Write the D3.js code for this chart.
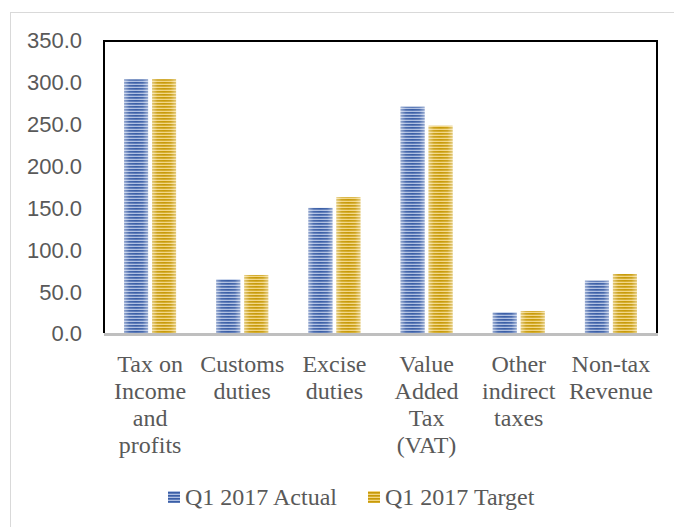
<!DOCTYPE html>
<html>
<head>
<meta charset="utf-8">
<script src="https://cdn.jsdelivr.net/npm/d3@7"></script>
<style>
  html, body { margin: 0; padding: 0; background: #fff; }
  svg { display: block; }
</style>
</head>
<body>
<svg id="chart" width="674" height="527"></svg>
<script>
// Revenue categories (axis labels are split into lines)
const categories = [
  ["Tax on", "Income", "and", "profits"],
  ["Customs", "duties"],
  ["Excise", "duties"],
  ["Value", "Added", "Tax", "(VAT)"],
  ["Other", "indirect", "taxes"],
  ["Non-tax", "Revenue"]
];
const seriesNames = ["Q1 2017 Actual", "Q1 2017 Target"];
const actual = [303.0, 64.1, 149.5, 270.3, 24.7, 62.5];
const target = [303.2, 69.3, 162.3, 247.6, 26.3, 70.5];
const yTicks = [0, 50, 100, 150, 200, 250, 300, 350];

const seriesValues = [actual, target];
const catKeys = categories.map(c => c.join(" "));

const svg = d3.select("#chart");
const plot = { left: 104, right: 657, top: 41, bottom: 333 };

// stripe patterns + soft side shading
const defs = svg.append("defs");
const palettes = [
  { id: "stripeBlue", light: "#aebfe2", dark: "#3a5ea6" },
  { id: "stripeGold", light: "#f3d684", dark: "#c89a08" }
];
palettes.forEach(p => {
  const pat = defs.append("pattern")
    .attr("id", p.id)
    .attr("patternUnits", "userSpaceOnUse")
    .attr("width", 8).attr("height", 3);
  pat.append("rect").attr("width", 8).attr("height", 3).attr("fill", p.light);
  pat.append("rect").attr("y", 1).attr("width", 8).attr("height", 1.7).attr("fill", p.dark);
});
const shade = defs.append("linearGradient").attr("id", "sideShade")
  .attr("x1", "0%").attr("x2", "100%").attr("y1", "0%").attr("y2", "0%");
[[0, 0.45], [0.22, 0.08], [0.5, 0], [0.78, 0.08], [1, 0.45]].forEach(([o, a]) =>
  shade.append("stop").attr("offset", o).attr("stop-color", "#fff").attr("stop-opacity", a));

// outer chart border
svg.append("rect")
  .attr("x", 10.5).attr("y", 12.5)
  .attr("width", 700).attr("height", 600)
  .attr("fill", "none").attr("stroke", "#d9d9d9").attr("stroke-width", 1);

const x0 = d3.scaleBand()
  .domain(catKeys)
  .range([plot.left, plot.right])
  .paddingInner(0.436)
  .paddingOuter(0.218);
const x1 = d3.scaleBand()
  .domain(seriesNames)
  .range([0, x0.bandwidth()])
  .paddingInner(1 / 7);
const y = d3.scaleLinear().domain([0, 350]).range([plot.bottom, plot.top - 1]);

// y axis tick labels
const yAxis = d3.axisLeft(y)
  .tickValues(yTicks)
  .tickFormat(d3.format(".1f"))
  .tickSize(0)
  .tickPadding(0);
const yg = svg.append("g")
  .attr("transform", `translate(82,0)`)
  .call(yAxis);
yg.select(".domain").remove();
yg.selectAll("text")
  .attr("fill", "#595959")
  .attr("font-family", "'Liberation Sans', Arial, sans-serif")
  .attr("font-size", 22)
  .attr("dy", "0.36em");

// bars
const fills = ["url(#stripeBlue)", "url(#stripeGold)"];
const groups = svg.append("g").selectAll("g")
  .data(catKeys)
  .join("g")
  .attr("transform", d => `translate(${x0(d)},0)`);
groups.each(function (key, i) {
  const g = d3.select(this);
  seriesNames.forEach((s, si) => {
    const v = seriesValues[si][i];
    g.append("rect")
      .attr("x", x1(s)).attr("y", y(v))
      .attr("width", x1.bandwidth()).attr("height", y(0) - y(v))
      .attr("fill", fills[si]);
    g.append("rect")
      .attr("x", x1(s)).attr("y", y(v))
      .attr("width", x1.bandwidth()).attr("height", y(0) - y(v))
      .attr("fill", "url(#sideShade)");
  });
});

// plot frame: black left/top/right, grey baseline
svg.append("path")
  .attr("d", `M${plot.left},${plot.bottom} V${plot.top} H${plot.right} V${plot.bottom}`)
  .attr("fill", "none").attr("stroke", "#000").attr("stroke-width", 2);
svg.append("line")
  .attr("x1", plot.left).attr("x2", plot.right + 1)
  .attr("y1", y(0) + 1.5).attr("y2", y(0) + 1.5)
  .attr("stroke", "#bfbfbf").attr("stroke-width", 3);

// category labels
const xl = svg.append("g");
categories.forEach((lines, i) => {
  const cx = x0(catKeys[i]) + x0.bandwidth() / 2;
  const t = xl.append("text")
    .attr("x", cx).attr("y", 372)
    .attr("text-anchor", "middle")
    .attr("fill", "#595959")
    .attr("font-family", "'Liberation Serif', 'Times New Roman', serif")
    .attr("font-size", 24);
  lines.forEach((ln, li) => {
    t.append("tspan").attr("x", cx).attr("y", 372 + li * 27).text(ln);
  });
});

// legend
const legendX = [168, 368];
seriesNames.forEach((s, si) => {
  const lg = svg.append("g").attr("transform", `translate(${legendX[si]},491)`);
  lg.append("rect").attr("width", 12).attr("height", 12).attr("fill", fills[si]);
  lg.append("text")
    .attr("x", 17).attr("y", 14)
    .attr("fill", "#595959")
    .attr("font-family", "'Liberation Serif', 'Times New Roman', serif")
    .attr("font-size", 24)
    .text(s);
});
</script>
</body>
</html>
